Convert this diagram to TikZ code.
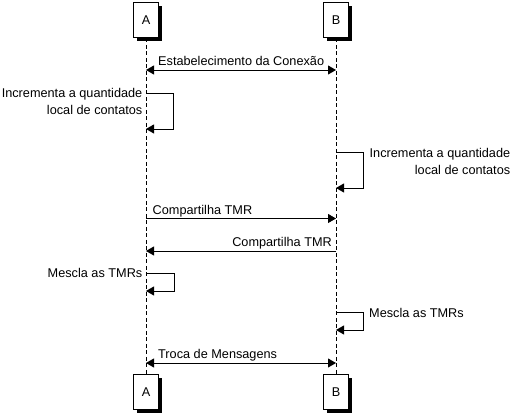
\documentclass[tikz,border=0pt]{standalone}
\usepackage{fontspec}
\setmainfont{Liberation Sans}
\usetikzlibrary{arrows.meta,shadows}
\begin{document}
\begin{tikzpicture}[x=1pt,y=-1pt,
  every node/.style={font=\fontsize{12.7}{14}\selectfont, inner sep=0pt},
  actor/.style={draw=black, fill=white, line width=1pt, minimum width=25pt, minimum height=35pt,
    drop shadow={shadow xshift=3pt, shadow yshift=-3pt, fill=black, opacity=1}},
  life/.style={line width=0.8pt, dash pattern=on 4pt off 2.5pt},
  msg/.style={line width=0.9pt, -{Triangle[length=8pt,width=9pt]}},
  bimsg/.style={line width=0.9pt, {Triangle[length=8pt,width=9pt]}-{Triangle[length=8pt,width=9pt]}},
  lblL/.style={anchor=base west},
  lblR/.style={anchor=base east}]
\useasboundingbox[fill=white] (0,0) rectangle (515,414);

% actors
\node[actor] (topA) at (146,20.5) {A};
\node[actor] (topB) at (336,20.5) {B};
\node[actor] (botA) at (146,392.5) {A};
\node[actor] (botB) at (336,392.5) {B};

% lifelines
\draw[life] (topA.south) -- (botA.north);
\draw[life] (topB.south) -- (botB.north);

% 1 Estabelecimento da Conexao
\coordinate (m1a) at (146,70);
\coordinate (m1b) at (336,70);
\draw[bimsg] (m1a) -- (m1b);
\node[lblL] (t1) at (158,66) {Estabelecimento da Conexão};

% 2 self A
\coordinate (s1a) at (146,93.5);
\coordinate (s1b) at (146,129);
\draw[msg] (s1a) -- ++(27.5,0) |- (s1b);
\node[lblR] (t2a) at (142.5,98) {Incrementa a quantidade};
\node[lblR] (t2b) at (142.5,115) {local de contatos};

% 3 self B
\coordinate (s2a) at (336,152.5);
\coordinate (s2b) at (336,188);
\draw[msg] (s2a) -- ++(27.5,0) |- (s2b);
\node[lblL] (t3a) at (369.5,158) {Incrementa a quantidade};
\node[lblR] (t3b) at (t3a.base east |- 0,175) {local de contatos};

% 4 Compartilha TMR ->
\coordinate (m2a) at (146,218.5);
\coordinate (m2b) at (336,218.5);
\draw[msg] (m2a) -- (m2b);
\node[lblL] (t4) at (152.5,214.5) {Compartilha TMR};

% 5 Compartilha TMR <-
\coordinate (m3a) at (336,251);
\coordinate (m3b) at (146,251);
\draw[msg] (m3a) -- (m3b);
\node[lblR] (t5) at (332,246.5) {Compartilha TMR};

% 6 Mescla A
\coordinate (s3a) at (146,273);
\coordinate (s3b) at (146,291);
\draw[msg] (s3a) -- ++(28,0) |- (s3b);
\node[lblR] (t6) at (142.5,278) {Mescla as TMRs};

% 7 Mescla B
\coordinate (s4a) at (336,312.5);
\coordinate (s4b) at (336,330);
\draw[msg] (s4a) -- ++(27.5,0) |- (s4b);
\node[lblL] (t7) at (369,317.5) {Mescla as TMRs};

% 8 Troca de Mensagens
\coordinate (m4a) at (146,363);
\coordinate (m4b) at (336,363);
\draw[bimsg] (m4a) -- (m4b);
\node[lblL] (t8) at (158,358.5) {Troca de Mensagens};
\end{tikzpicture}
\end{document}
